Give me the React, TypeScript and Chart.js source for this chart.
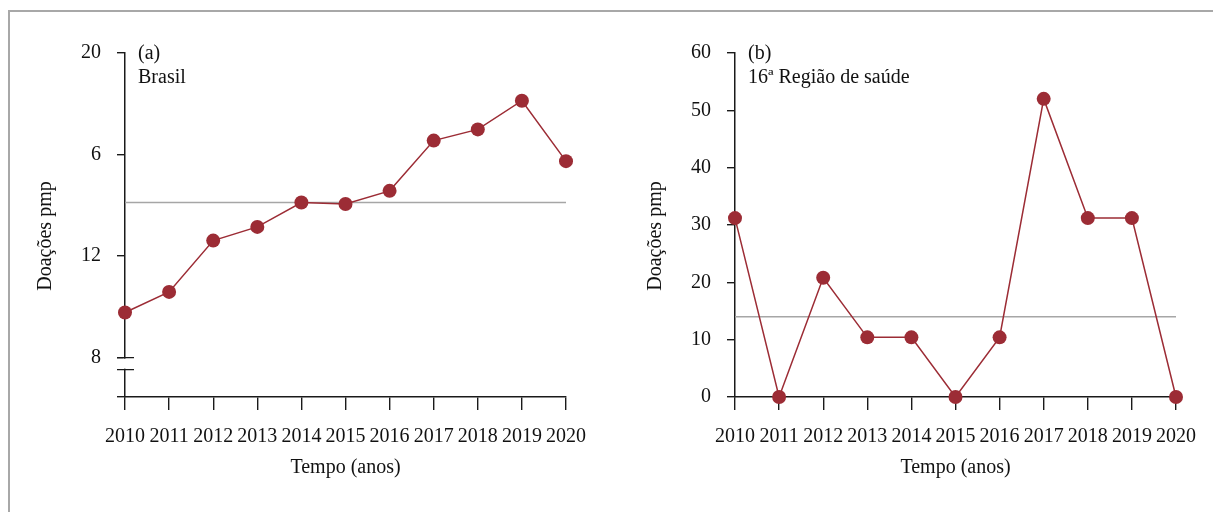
import React, { useEffect, useRef } from 'react';
import { Chart, registerables } from 'chart.js';

Chart.register(...registerables);

const FONT = "'Liberation Serif', 'DejaVu Serif', serif";

const years = ['2010', '2011', '2012', '2013', '2014', '2015', '2016', '2017', '2018', '2019', '2020'];

const brasilValues = [9.78, 10.59, 12.61, 13.15, 14.11, 14.05, 14.57, 16.55, 16.99, 18.12, 15.74];
const brasilMean = 14.11;
const brasilMin = 6.45;
const brasilMax = 20;
const brasilTickValues = [8, 12, 16, 20];
const brasilTickLabels = ['8', '12', '6', '20'];
const brasilBreakAt = 8;

const regiaoValues = [31.2, 0, 20.8, 10.4, 10.4, 0, 10.4, 52, 31.2, 31.2, 0];
const regiaoMean = 14.0;
const regiaoMin = 0;
const regiaoMax = 60;
const regiaoTickValues = [0, 10, 20, 30, 40, 50, 60];
const regiaoTickLabels = ['0', '10', '20', '30', '40', '50', '60'];

const panelATitle = ['(a)', 'Brasil'];
const panelBTitle = ['(b)', '16ª Região de saúde'];
const yTitle = 'Doações pmp';
const xTitle = 'Tempo (anos)';

const RED = '#9c2c35';
const AXIS = '#1a1a1a';
const MEAN = '#a6a6a6';

type PanelProps = {
  left: number;
  values: number[];
  mean: number;
  min: number;
  max: number;
  tickValues: number[];
  tickLabels: string[];
  titleLines: string[];
  breakAt?: number;
};

function Panel(props: PanelProps) {
  const ref = useRef<HTMLCanvasElement | null>(null);

  useEffect(() => {
    const canvas = ref.current;
    if (!canvas) return;
    const { values, mean, min, max, tickValues, tickLabels, titleLines, breakAt } = props;
    const allTicks = tickValues.includes(min) ? tickValues.slice() : [min, ...tickValues];

    const annot = {
      id: 'annot',
      afterDraw(chart: any) {
        const { ctx, chartArea } = chart;
        ctx.save();
        ctx.font = `20px ${FONT}`;
        ctx.fillStyle = '#111';
        ctx.textBaseline = 'middle';
        ctx.textAlign = 'left';
        titleLines.forEach((t, i) => ctx.fillText(t, chartArea.left + 13, chartArea.top + 1 + i * 24));
        if (breakAt !== undefined) {
          const ys = chart.scales.y;
          const p = ys.getPixelForValue(breakAt);
          const gap = 12;
          const ax = chartArea.left;
          ctx.fillStyle = '#fff';
          ctx.fillRect(ax - 2, p + 1, 4, gap - 2);
          ctx.strokeStyle = AXIS;
          ctx.lineWidth = 1.4;
          ctx.beginPath();
          ctx.moveTo(ax - 8, p);
          ctx.lineTo(ax + 9, p);
          ctx.moveTo(ax - 8, p + gap);
          ctx.lineTo(ax + 9, p + gap);
          ctx.stroke();
        }
        ctx.translate(chartArea.left - 79, (chartArea.top + chartArea.bottom) / 2 + 11);
        ctx.rotate(-Math.PI / 2);
        ctx.textAlign = 'center';
        ctx.fillStyle = '#111';
        ctx.fillText(yTitle, 0, 0);
        ctx.restore();
      },
    };

    const font = { family: FONT, size: 20 };

    const chart = new Chart(canvas, {
      type: 'line',
      data: {
        labels: years,
        datasets: [
          {
            data: values,
            borderColor: RED,
            backgroundColor: RED,
            borderWidth: 1.5,
            pointRadius: 7,
            pointBackgroundColor: RED,
            pointBorderWidth: 0,
            clip: false,
            order: 0,
          } as any,
          {
            data: [
              { x: years[0], y: mean },
              { x: years[years.length - 1], y: mean },
            ],
            borderColor: MEAN,
            borderWidth: 1.5,
            pointRadius: 0,
            order: 1,
          } as any,
        ],
      },
      options: {
        responsive: false,
        animation: false,
        layout: { padding: { top: 53, right: 40, left: 0, bottom: 0 } },
        plugins: {
          legend: { display: false },
          tooltip: { enabled: false },
        },
        scales: {
          x: {
            type: 'category',
            offset: false,
            grid: {
              display: true,
              drawOnChartArea: false,
              drawTicks: true,
              tickLength: 13,
              color: AXIS,
              lineWidth: 1.4,
            },
            border: { display: true, color: AXIS, width: 1.5 },
            ticks: { autoSkip: false, maxRotation: 0, minRotation: 0, padding: 15, color: '#111', font },
            title: { display: true, text: xTitle, color: '#111', font, padding: { top: 0, bottom: 32 } },
            afterFit: (s: any) => {
              s.height = 115;
            },
          },
          y: {
            type: 'linear',
            min,
            max,
            afterBuildTicks: (s: any) => {
              s.ticks = allTicks.map((v) => ({ value: v }));
            },
            grid: {
              display: true,
              drawOnChartArea: false,
              drawTicks: true,
              tickLength: 8,
              color: AXIS,
              lineWidth: 1.4,
            },
            border: { display: true, color: AXIS, width: 1.5 },
            ticks: {
              padding: 16,
              color: '#111',
              font,
              callback: (v: any) => {
                const i = tickValues.indexOf(Number(v));
                return i >= 0 ? tickLabels[i] : '';
              },
            },
            afterFit: (s: any) => {
              s.width = 125;
            },
          },
        },
      } as any,
      plugins: [annot],
    });

    return () => chart.destroy();
  }, []);

  return (
    <canvas
      ref={ref}
      width={606}
      height={512}
      style={{ position: 'absolute', left: props.left, top: 0, width: 606, height: 512, display: 'block' }}
    />
  );
}

export default function App() {
  return (
    <div
      style={{
        position: 'fixed',
        left: 0,
        top: 0,
        width: 1213,
        height: 512,
        background: '#fff',
        overflow: 'hidden',
      }}
    >
      <div style={{ position: 'absolute', left: 8, top: 10, width: 2, height: 502, background: '#a8a8a8' }} />
      <div style={{ position: 'absolute', left: 8, top: 10, width: 1205, height: 2, background: '#a8a8a8' }} />
      <Panel
        left={0}
        values={brasilValues}
        mean={brasilMean}
        min={brasilMin}
        max={brasilMax}
        tickValues={brasilTickValues}
        tickLabels={brasilTickLabels}
        titleLines={panelATitle}
        breakAt={brasilBreakAt}
      />
      <Panel
        left={610}
        values={regiaoValues}
        mean={regiaoMean}
        min={regiaoMin}
        max={regiaoMax}
        tickValues={regiaoTickValues}
        tickLabels={regiaoTickLabels}
        titleLines={panelBTitle}
      />
    </div>
  );
}
